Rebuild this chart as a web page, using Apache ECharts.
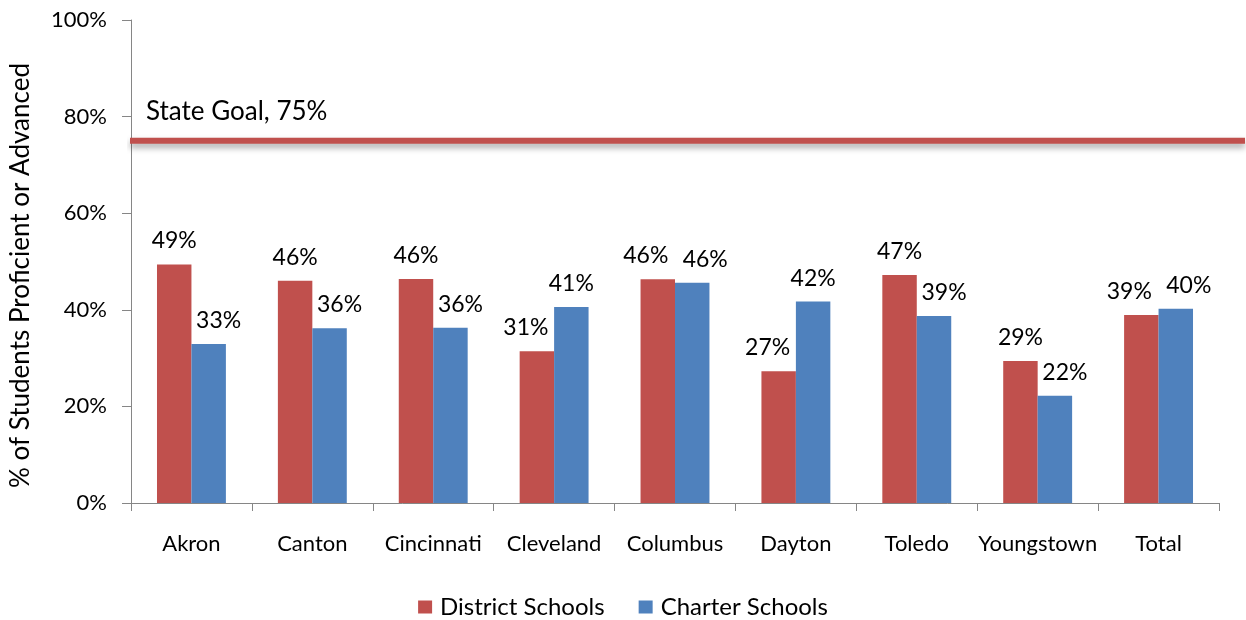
<!DOCTYPE html>
<html>
<head>
<meta charset="utf-8">
<script src="https://cdn.jsdelivr.net/npm/echarts@6/dist/echarts.min.js"></script>
<style>
html,body{margin:0;padding:0;background:#fff;}
#chart{width:1246px;height:620px;}
</style>
</head>
<body>
<div id="chart"></div>
<script>
const categories = ['Akron','Canton','Cincinnati','Cleveland','Columbus','Dayton','Toledo','Youngstown','Total'];
const districtSchools = [49.4, 46.0, 46.4, 31.4, 46.3, 27.3, 47.2, 29.4, 38.9];
const charterSchools  = [32.9, 36.2, 36.3, 40.6, 45.6, 41.7, 38.7, 22.2, 40.2];
const stateGoal = 75;
const stateGoalLabel = 'State Goal, 75%';
const yTicks = [0, 20, 40, 60, 80, 100];
const seriesNames = ['District Schools', 'Charter Schools'];
const yAxisTitle = '% of Students Proficient or Advanced';

const FONT = 'Lato';
const chart = echarts.init(document.getElementById('chart'));
const pct = p => Math.round(p.value) + '%';

// Excel-like label collision avoidance: the lower label steps aside from the taller bar
function labelShift(seriesIndex, i) {
  const d = districtSchools[i], c = charterSchools[i];
  if (Math.abs(d - c) < 3) return seriesIndex === 0 ? -12 : 13;
  if (d < c) return seriesIndex === 0 ? -11 : 0;
  return seriesIndex === 0 ? 0 : 10;
}

chart.setOption({
  animation: false,
  textStyle: { fontFamily: FONT, color: '#000' },
  grid: [
    { left: 130, right: 27, top: 20, bottom: 117 },
    { left: 130, right: 1, top: 20, bottom: 117 }
  ],
  legend: {
    data: seriesNames,
    top: 590,
    left: 'center',
    icon: 'rect',
    itemWidth: 14,
    itemHeight: 13,
    itemGap: 34,
    textStyle: { fontFamily: FONT, fontSize: 24, color: '#000', padding: [0, 0, 0, 3] }
  },
  xAxis: [
    {
      type: 'category',
      gridIndex: 0,
      data: categories,
      axisLine: { lineStyle: { color: '#868686', width: 1 } },
      axisTick: { show: true, length: 8, lineStyle: { color: '#868686' } },
      axisLabel: { margin: 30, fontSize: 22, color: '#000', fontFamily: FONT, interval: 0 },
      splitLine: { show: false }
    },
    {
      type: 'value',
      gridIndex: 1,
      min: 0, max: 1,
      show: false
    }
  ],
  yAxis: [
    {
      type: 'value',
      gridIndex: 0,
      min: yTicks[0],
      max: yTicks[yTicks.length - 1],
      interval: 20,
      name: yAxisTitle,
      nameLocation: 'middle',
      nameGap: 97,
      nameTextStyle: { fontSize: 26, color: '#000', fontFamily: FONT, padding: [0, 28, 0, 0] },
      axisLine: { show: true, lineStyle: { color: '#868686', width: 1 } },
      axisTick: { show: true, length: 9, lineStyle: { color: '#868686' } },
      axisLabel: { margin: 24, fontSize: 22, color: '#000', fontFamily: FONT, formatter: v => v + '%' },
      splitLine: { show: false }
    },
    {
      type: 'value',
      gridIndex: 1,
      min: yTicks[0],
      max: yTicks[yTicks.length - 1],
      show: false
    }
  ],
  series: [
    {
      name: seriesNames[0],
      type: 'bar',
      xAxisIndex: 0, yAxisIndex: 0,
      data: districtSchools,
      barGap: '0%',
      barCategoryGap: '43%',
      itemStyle: { color: '#C0504D' },
      label: { show: true, position: 'top', distance: 12, fontSize: 23, color: '#000', fontFamily: FONT, formatter: pct },
      labelLayout: p => ({ dx: labelShift(0, p.dataIndex) })
    },
    {
      name: seriesNames[1],
      type: 'bar',
      xAxisIndex: 0, yAxisIndex: 0,
      data: charterSchools,
      barGap: '0%',
      barCategoryGap: '43%',
      itemStyle: { color: '#4F81BD' },
      label: { show: true, position: 'top', distance: 12, fontSize: 23, color: '#000', fontFamily: FONT, formatter: pct },
      labelLayout: p => ({ dx: labelShift(1, p.dataIndex) })
    },
    {
      name: 'State Goal',
      type: 'line',
      xAxisIndex: 1, yAxisIndex: 1,
      data: [[0, stateGoal], [1, stateGoal]],
      showSymbol: false,
      symbol: 'none',
      silent: true,
      lineStyle: {
        color: '#C0504D', width: 6,
        shadowColor: 'rgba(0,0,0,0.35)', shadowBlur: 6, shadowOffsetY: 4
      },
      markPoint: {
        symbol: 'circle', symbolSize: 0,
        data: [{ coord: [0, stateGoal] }],
        label: {
          show: true, position: 'top', align: 'left', offset: [16, -11],
          fontSize: 26, color: '#000', fontFamily: FONT,
          formatter: () => stateGoalLabel
        }
      }
    }
  ]
});
</script>
</body>
</html>
